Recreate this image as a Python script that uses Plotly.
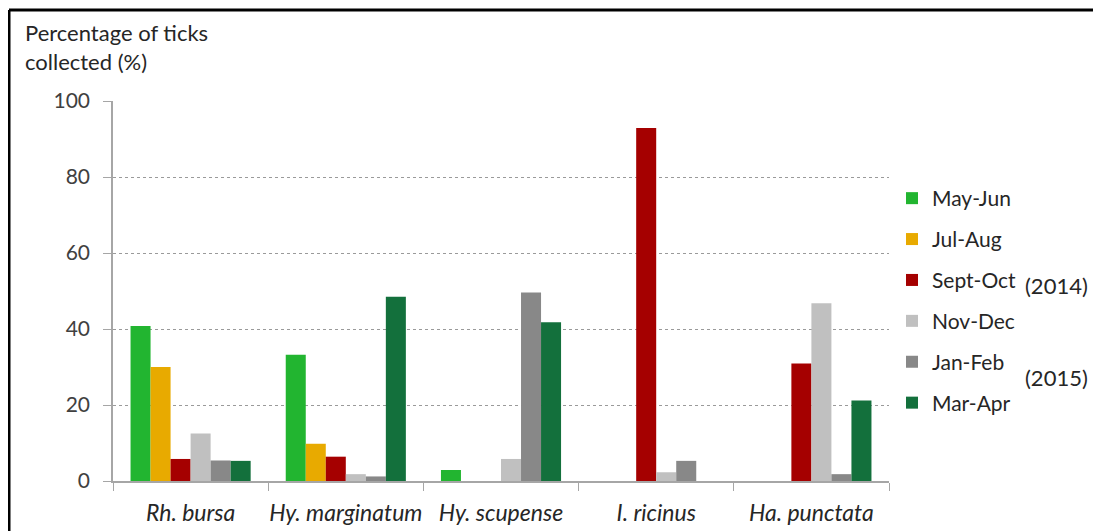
import plotly.graph_objects as go

species = ["Rh. bursa", "Hy. marginatum", "Hy. scupense", "I. ricinus", "Ha. punctata"]
periods = ["May-Jun", "Jul-Aug", "Sept-Oct", "Nov-Dec", "Jan-Feb", "Mar-Apr"]
may_jun = [40.8, 33.2, 2.9, None, None]
jul_aug = [30.0, 9.8, None, None, None]
sept_oct = [5.8, 6.4, None, 92.9, 30.9]
nov_dec = [12.5, 1.8, 5.8, 2.3, 46.8]
jan_feb = [5.4, 1.2, 49.6, 5.3, 1.8]
mar_apr = [5.3, 48.5, 41.8, None, 21.2]
series = [may_jun, jul_aug, sept_oct, nov_dec, jan_feb, mar_apr]
colors = ["#22b530", "#e8aa00", "#a50000", "#c0c0c0", "#888888", "#13703c"]
yticks = [0, 20, 40, 60, 80, 100]

FONT = "Lato, 'Open Sans', sans-serif"
TXT = "#404040"
DARK = "#262626"

fig = go.Figure()
for name, vals, col in zip(periods, series, colors):
    fig.add_trace(go.Bar(
        x=[f"<i>{s}</i>" for s in species], y=vals, name=name,
        marker=dict(color=col, line=dict(width=0)),
        legendgroup=name,
    ))

OFF = 8  # page body margin
W, H = 1101, 531
# plot area in screen pixels: x 113..889, y 101..481
L, T = 113 - OFF, 101 - OFF
R = W - (889 - OFF)
B = H - (481 - OFF)
pw, ph = W - L - R, H - T - B

def px_x(sx):
    return (sx - OFF - L) / pw

def px_y(sy):
    return (H - B - (sy - OFF)) / ph

fig.update_layout(
    width=W, height=H,
    margin=dict(l=L, r=R, t=T, b=B, autoexpand=False),
    paper_bgcolor="white", plot_bgcolor="white",
    barmode="group", bargap=0.226, bargroupgap=0,
    font=dict(family=FONT, size=21, color=TXT),
    showlegend=True,
    legend=dict(
        x=px_x(892), y=px_y(178), xanchor="left", yanchor="top",
        font=dict(family=FONT, size=21, color=DARK),
        traceorder="grouped", tracegroupgap=10.6,
        bgcolor="rgba(0,0,0,0)",
    ),
    xaxis=dict(
        showline=True, linecolor="#a6a6a6", linewidth=1.5,
        ticks="outside", tickson="boundaries", ticklen=8, tickcolor="#a6a6a6",
        tickfont=dict(family=FONT, size=23, color=DARK),
        ticklabelstandoff=11, tickangle=0, automargin=False,
        showgrid=False,
    ),
    yaxis=dict(
        range=[0, 100], tickvals=yticks,
        showline=True, linecolor="#a6a6a6", linewidth=1.5,
        ticks="outside", ticklen=8, tickcolor="#a6a6a6",
        tickfont=dict(family=FONT, size=21, color=TXT),
        ticklabelstandoff=9, automargin=False,
        showgrid=True, gridcolor="#9a9a9a", gridwidth=1, griddash="dot",
        zeroline=False,
    ),
)

fig.add_annotation(
    text="Percentage of ticks<br>collected (%)", xref="paper", yref="paper",
    x=px_x(23), y=px_y(17), xanchor="left", yanchor="top", align="left",
    showarrow=False, font=dict(family=FONT, size=22, color=DARK),
)
fig.add_annotation(
    text="(2014)", xref="paper", yref="paper",
    x=px_x(1023), y=px_y(285), xanchor="left", yanchor="middle",
    showarrow=False, font=dict(family=FONT, size=22, color=DARK),
)
fig.add_annotation(
    text="(2015)", xref="paper", yref="paper",
    x=px_x(1023), y=px_y(377), xanchor="left", yanchor="middle",
    showarrow=False, font=dict(family=FONT, size=22, color=DARK),
)

# frame
fig.add_shape(type="line", xref="paper", yref="paper",
              x0=px_x(9), x1=px_x(9), y0=px_y(10), y1=px_y(560),
              line=dict(color="black", width=3))
fig.add_shape(type="line", xref="paper", yref="paper",
              x0=px_x(9), x1=px_x(1130), y0=px_y(10), y1=px_y(10),
              line=dict(color="black", width=3))

fig.write_html("out.html")
